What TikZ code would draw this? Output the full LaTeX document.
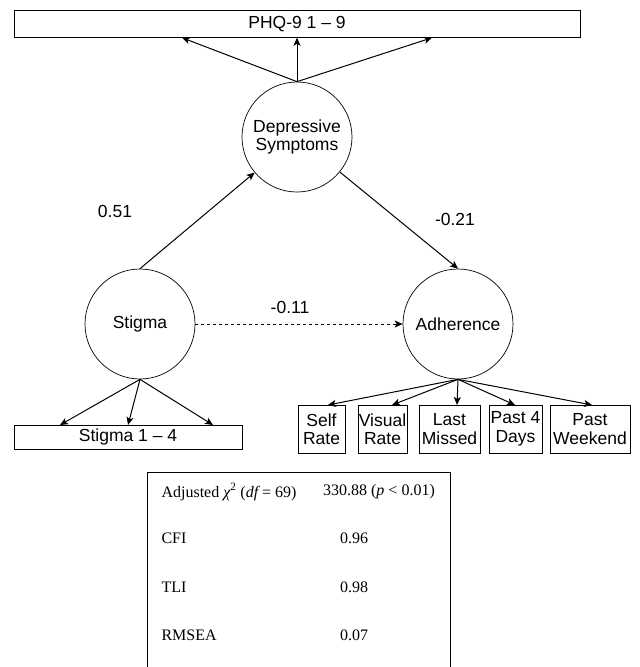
\documentclass[tikz,border=0pt]{standalone}
\usepackage{fontspec}
\setmainfont{Liberation Sans}
\newfontfamily\tablefont{Liberation Serif}
\usetikzlibrary{arrows.meta}
\begin{document}
\begin{tikzpicture}[x=1pt,y=1pt,font=\fontsize{17.5}{18.5}\selectfont]

\definecolor{lat_node_draw}{RGB}{0,0,0}
\definecolor{lat_node_fill}{RGB}{255,255,255}
\tikzstyle{latent_style}=[circle,draw=lat_node_draw,fill=lat_node_fill,minimum size=110pt,inner sep=0pt,align=center,line width=0.7pt]
\tikzstyle{indicator_style}=[rectangle,draw=lat_node_draw,fill=lat_node_fill,inner sep=0pt,align=center,line width=0.7pt]

\definecolor{path_draw}{RGB}{0,0,0}
\tikzstyle{path_style}=[draw=path_draw,line width=1pt,-{Stealth[length=8pt,width=7pt,inset=2pt]}]

\useasboundingbox (0,0) rectangle (640,-667);

% indicator boxes
\node(phq) at (297,-24) [indicator_style,minimum width=566pt,minimum height=27.5pt] {PHQ-9 1 -- 9};
\node(stigind) at (128,-437) [indicator_style,minimum width=228pt,minimum height=24pt] {Stigma 1 -- 4};
\node(selfr) at (321.5,-429) [indicator_style,minimum width=47pt,minimum height=48pt] {Self\\Rate};
\node(visr) at (382.5,-429) [indicator_style,minimum width=49pt,minimum height=48pt] {Visual\\Rate};
\node(lastm) at (449.5,-429) [indicator_style,minimum width=61pt,minimum height=48pt] {Last\\Missed};
\node(past4) at (515.5,-429) [indicator_style,minimum width=53pt,minimum height=48pt] {Past 4\\Days};
\node(pastw) at (590,-429) [indicator_style,minimum width=80pt,minimum height=48pt] {Past\\Weekend};

% latent variables
\node(dep) at (297,-137) [latent_style] {Depressive\\Symptoms};
\node(stig) at (140,-324) [latent_style] {Stigma};
\node(adh) at (458,-324) [latent_style] {Adherence};

% where the loadings hit the boxes
\coordinate(phq1) at (182,-37.75);
\coordinate(phq2) at (297,-37.75);
\coordinate(phq3) at (432,-37.75);
\coordinate(st1) at (60,-425);
\coordinate(st2) at (128,-425);
\coordinate(st3) at (213,-425);
\coordinate(ad1) at (328,-405);
\coordinate(ad2) at (392,-405);
\coordinate(ad3) at (457,-405);
\coordinate(ad4) at (515,-405);
\coordinate(ad5) at (592,-405);

\draw[path_style](dep.north) -- (phq1);
\draw[path_style](dep.north) -- (phq2);
\draw[path_style](dep.north) -- (phq3);
\draw[path_style](stig.south) -- (st1);
\draw[path_style](stig.south) -- (st2);
\draw[path_style](stig.south) -- (st3);
\foreach \t in {ad1,ad2,ad3,ad4,ad5}
  \draw[path_style](adh.south) -- (\t);

% structural paths
\draw[path_style](stig.north) -- (dep);
\draw[path_style](dep) -- (adh.north);
\draw[path_style,dash pattern=on 3pt off 3pt](stig) -- (adh);

\node(b1) at (115,-211) {0.51};
\node(b2) at (455,-219) {-0.21};
\node(b3) at (290,-307) {-0.11};

% fit table
\draw[line width=1pt] (147,-667) -- (147,-472) -- (450,-472) -- (450,-667);
\begin{scope}[font=\tablefont\fontsize{16}{18}\selectfont]
\node(chil) at (158,-492) [anchor=west] {Adjusted {\itshape χ}\textsuperscript{2} ({\itshape df} = 69)};
\node(chiv) at (379,-492) {330.88 ({\itshape p} < 0.01)};
\node(cfil) at (158,-538) [anchor=west] {CFI};
\node(cfiv) at (354,-538) {0.96};
\node(tlil) at (158,-587) [anchor=west] {TLI};
\node(tliv) at (354,-587) {0.98};
\node(rmsl) at (158,-635) [anchor=west] {RMSEA};
\node(rmsv) at (354,-635) {0.07};
\end{scope}

\end{tikzpicture}
\end{document}
